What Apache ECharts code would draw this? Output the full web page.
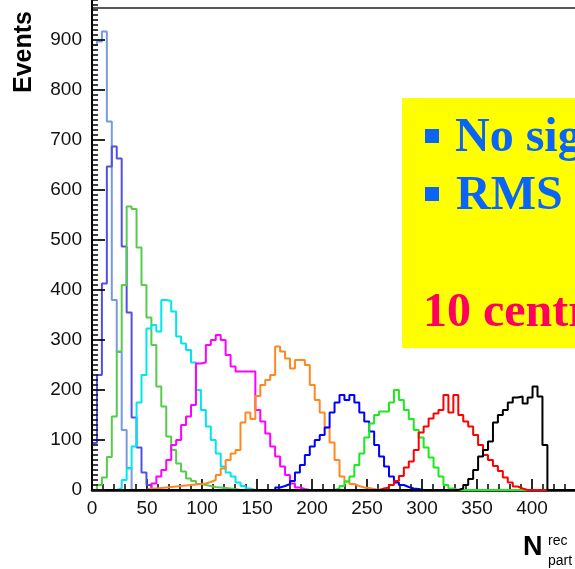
<!DOCTYPE html>
<html><head><meta charset="utf-8">
<script src="https://cdn.jsdelivr.net/npm/echarts@6/dist/echarts.min.js"></script>
<style>html,body{margin:0;padding:0;background:#fff;}#c{width:575px;height:569px;}</style>
</head><body><div id="c"></div>
<script>
// ---- data ----
const binWidth = 4.5;            // histogram bin width (N_part units)
const nBins = 100;               // 0 .. 450
const xTickLabels = ['0','50','100','150','200','250','300','350','400'];
const yTickLabels = ['0','100','200','300','400','500','600','700','800','900'];

// each centrality class: first non-empty bin index + counts per bin
const c1Start = 0;  const c1 = [890, 897, 917, 737, 380, 276, 120, 44];
const c2Start = 0;  const c2 = [94, 230, 413, 647, 687, 663, 487, 355, 145, 85, 35, 10];
const c3Start = 1;  const c3 = [10, 25, 66, 147, 277, 410, 567, 562, 485, 410, 345, 290, 207, 167, 107, 80, 53, 37, 23, 18, 12, 10, 8, 6, 5, 4, 3, 2];
const c4Start = 5;  const c4 = [3, 20, 43, 87, 175, 230, 323, 330, 317, 380, 378, 357, 307, 293, 280, 255, 200, 160, 127, 100, 73, 47, 35, 27, 15, 8, 3];
const c5Start = 11; const c5 = [3, 13, 27, 40, 60, 90, 100, 130, 147, 170, 253, 255, 290, 300, 310, 300, 270, 247, 237, 237, 237, 237, 160, 137, 113, 87, 67, 47, 30, 13, 5, 2];
const c6Start = 11; const c6 = [3, 3, 4, 5, 6, 7, 8, 9, 10, 11, 12, 13, 16, 20, 30, 43, 60, 73, 80, 135, 155, 142, 188, 210, 220, 230, 287, 277, 263, 243, 260, 260, 250, 210, 180, 155, 125, 95, 60, 27, 17, 12, 8, 5, 4, 2];
const c7Start = 37; const c7 = [5, 8, 12, 18, 35, 50, 70, 87, 100, 110, 125, 155, 175, 190, 180, 190, 175, 155, 137, 117, 90, 67, 47, 27, 15, 10, 6, 3, 2];
const c8Start = 49; const c8 = [3, 8, 17, 27, 50, 73, 105, 133, 150, 157, 157, 175, 200, 180, 160, 142, 120, 105, 85, 65, 45, 27, 10, 3];
const c9Start = 58; const c9 = [3, 5, 10, 18, 28, 45, 57, 80, 115, 127, 143, 153, 160, 190, 155, 190, 150, 137, 127, 110, 90, 70, 60, 48, 38, 25, 15, 7, 3];
const c10Start = 74; const c10 = [3, 10, 22, 40, 67, 80, 97, 135, 150, 160, 175, 185, 187, 173, 185, 207, 187, 90];

const classes = [
  {name: 'class 1',  start: c1Start,  counts: c1,  color: '#7799dd'},
  {name: 'class 2',  start: c2Start,  counts: c2,  color: '#5050e6'},
  {name: 'class 3',  start: c3Start,  counts: c3,  color: '#55cc4a'},
  {name: 'class 4',  start: c4Start,  counts: c4,  color: '#00e6ee'},
  {name: 'class 5',  start: c5Start,  counts: c5,  color: '#ff00ff'},
  {name: 'class 6',  start: c6Start,  counts: c6,  color: '#ff8820'},
  {name: 'class 7',  start: c7Start,  counts: c7,  color: '#0000ff'},
  {name: 'class 8',  start: c8Start,  counts: c8,  color: '#1ee81e'},
  {name: 'class 9',  start: c9Start,  counts: c9,  color: '#ff0000'},
  {name: 'class 10', start: c10Start, counts: c10, color: '#000000'}
];

function stepData(start, counts) {
  const pts = [];
  for (let k = 0; k < nBins; k++) {
    const i = k - start;
    const v = (i >= 0 && i < counts.length) ? counts[i] : 0;
    pts.push([k * binWidth, v]);
  }
  pts.push([nBins * binWidth, 0]);
  return pts;
}

const chart = echarts.init(document.getElementById('c'), null, {renderer: 'canvas'});
const labelFont = {fontFamily: 'Liberation Sans, Arial, sans-serif', fontSize: 19, color: '#111'};

chart.setOption({
  animation: false,
  backgroundColor: '#ffffff',
  grid: {left: 92, top: -10, width: 495, height: 500, show: false, containLabel: false, outerBoundsMode: 'none'},
  xAxis: {
    type: 'value', min: 0, max: 450, interval: 50,
    axisLine: {show: true, onZero: false, lineStyle: {color: '#000', width: 2.5}},
    axisTick: {show: true, inside: true, length: 11, lineStyle: {color: '#111', width: 1.8}},
    minorTick: {show: true, splitNumber: 5, length: 6, lineStyle: {color: '#111', width: 1.6}},
    splitLine: {show: false},
    axisLabel: Object.assign({margin: 9, showMaxLabel: false, showMinLabel: true}, labelFont)
  },
  yAxis: {
    type: 'value', min: 0, max: 1000, interval: 100,
    axisLine: {show: true, onZero: false, lineStyle: {color: '#000', width: 2}},
    axisTick: {show: true, inside: true, length: 13, lineStyle: {color: '#111', width: 1.8}},
    minorTick: {show: true, splitNumber: 10, length: 6, lineStyle: {color: '#111', width: 1.6}},
    splitLine: {show: false},
    axisLabel: Object.assign({margin: 10, showMaxLabel: false, showMinLabel: true}, labelFont),
    z: 5
  },
  series: classes.map((c, idx) => ({
    name: c.name, type: 'line', step: 'end', symbol: 'none',
    data: stepData(c.start, c.counts),
    lineStyle: {color: c.color, width: 2},
    itemStyle: {color: c.color},
    z: 2 + idx * 0.01,
    silent: true
  })),
  graphic: [
    // top frame line
    {type: 'line', shape: {x1: 91, y1: 8, x2: 575, y2: 8}, style: {stroke: '#222', lineWidth: 1.5}, z: 5},
    // y title
    {type: 'text', x: 24, y: 52, rotation: Math.PI / 2,
     style: {text: 'Events', font: 'bold 25px Liberation Sans, Arial, sans-serif', fill: '#000',
             textAlign: 'center', textVerticalAlign: 'middle'}},
    // x title
    {type: 'text', x: 523, y: 548,
     style: {text: 'N', font: 'bold 27px Liberation Sans, Arial, sans-serif', fill: '#000',
             textAlign: 'left', textVerticalAlign: 'middle'}},
    {type: 'text', x: 548, y: 541,
     style: {text: 'rec', font: '14px Liberation Sans, Arial, sans-serif', fill: '#000',
             textAlign: 'left', textVerticalAlign: 'middle'}},
    {type: 'text', x: 548, y: 561,
     style: {text: 'part', font: '14px Liberation Sans, Arial, sans-serif', fill: '#000',
             textAlign: 'left', textVerticalAlign: 'middle'}},
    // yellow annotation box
    {type: 'rect', shape: {x: 402, y: 98, width: 200, height: 250}, style: {fill: '#ffff00'}, z: 10},
    {type: 'rect', shape: {x: 425, y: 129, width: 14, height: 14}, style: {fill: '#0a64f5'}, z: 11},
    {type: 'rect', shape: {x: 425, y: 187, width: 14, height: 14}, style: {fill: '#0a64f5'}, z: 11},
    {type: 'text', x: 455, y: 139, z: 11,
     style: {text: 'No sig', font: 'bold 48px Liberation Serif, Times New Roman, serif', fill: '#0a64f5',
             textAlign: 'left', textVerticalAlign: 'middle'}},
    {type: 'text', x: 456, y: 197, z: 11,
     style: {text: 'RMS', font: 'bold 48px Liberation Serif, Times New Roman, serif', fill: '#0a64f5',
             textAlign: 'left', textVerticalAlign: 'middle'}},
    {type: 'text', x: 423, y: 314, z: 11,
     style: {text: '10 centr', font: 'bold 48px Liberation Serif, Times New Roman, serif', fill: '#ff0060',
             textAlign: 'left', textVerticalAlign: 'middle'}}
  ]
});
</script></body></html>
